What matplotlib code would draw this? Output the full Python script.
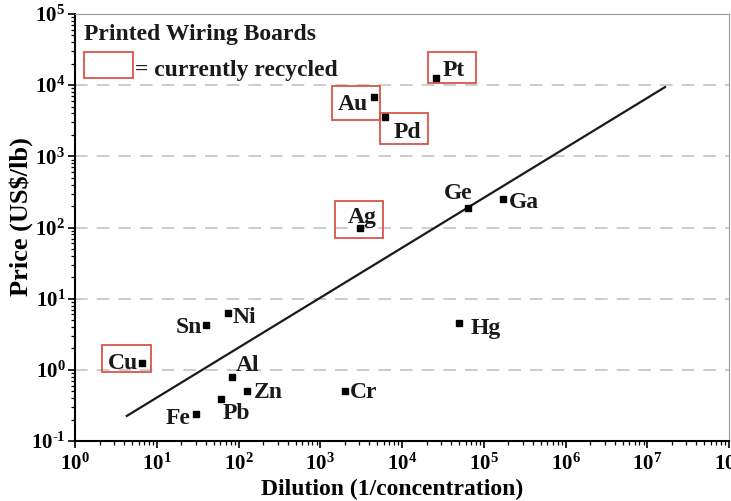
import matplotlib
matplotlib.use('Agg')
import matplotlib.pyplot as plt
import matplotlib.patches as mpatches
import matplotlib.transforms as mtransforms
import matplotlib.ticker as mticker
import numpy as np

plt.rcParams['font.family'] = ['Liberation Serif', 'DejaVu Serif']
plt.rcParams['font.weight'] = 'bold'
plt.rcParams['mathtext.fontset'] = 'custom'
plt.rcParams['mathtext.rm'] = 'Liberation Serif:bold'
plt.rcParams['mathtext.it'] = 'Liberation Serif:bold'
plt.rcParams['mathtext.bf'] = 'Liberation Serif:bold'

# data
metals = ['Pt', 'Au', 'Pd', 'Ag', 'Ge', 'Ga', 'Hg', 'Cr', 'Zn', 'Al', 'Pb', 'Fe', 'Sn', 'Ni', 'Cu']
dilution = [2.6e4, 4.5e3, 6.2e3, 3.1e3, 6.4e4, 1.73e5, 5.0e4, 2.0e3, 127, 83, 61, 30, 40, 74, 6.6]
price = [1.25e4, 6.8e3, 3.6e3, 98, 190, 255, 4.6, 0.51, 0.51, 0.80, 0.39, 0.24, 4.2, 6.3, 1.26]
recycled = ['Pt', 'Au', 'Pd', 'Ag', 'Cu']

trend_x = [4.3, 1.65e7]
trend_y = [0.225, 9400]

# label placement (pixels from the marker) and alignment
label_pos = {
    'Pt': (7, 8, 'left'), 'Au': (-6, -7, 'right'), 'Pd': (9, -16, 'left'),
    'Ag': (2, 11, 'center'), 'Ge': (-10, 14, 'center'), 'Ga': (6, -4, 'left'),
    'Hg': (11, -6, 'left'), 'Cr': (5, -2, 'left'), 'Zn': (7, -2, 'left'),
    'Al': (4, 11, 'left'), 'Pb': (2, -15, 'left'), 'Fe': (-5, -5, 'right'),
    'Sn': (-4, -2, 'right'), 'Ni': (5, -5, 'left'), 'Cu': (-4, -1, 'right'),
}
# red boxes (x, y, w, h in pixels relative to the marker)
box_pos = {
    'Pt': (-8, -5, 48, 31), 'Au': (-42, -23, 48, 34), 'Pd': (-5, -27, 48, 31),
    'Ag': (-25, -10, 48, 37), 'Cu': (-40, -9, 49, 27),
}


def log_fmt(v, pos):
    e = int(round(np.log10(v)))
    if e < 0:
        return r'$10^{\text{-}%d}$' % (-e)
    return r'$10^{%d}$' % e


fig = plt.figure(figsize=(7.31, 5.01), dpi=100)
ax = fig.add_axes([75/731, 1 - 441/501, 654/731, 427/501])
ax.set_xscale('log')
ax.set_yscale('log')
ax.set_xlim(1, 1e8)
ax.set_ylim(0.1, 1e5)
ax.xaxis.set_major_formatter(mticker.FuncFormatter(log_fmt))
ax.yaxis.set_major_formatter(mticker.FuncFormatter(log_fmt))

ax.yaxis.grid(True, which='major', color='#c8c8c8', linestyle=(0, (7, 5)), linewidth=1.3)
ax.set_axisbelow(True)

ax.plot(trend_x, trend_y, color='#1a1a1a', linewidth=1.6)
ax.plot(dilution, price, 's', color='black', markersize=3.8, linestyle='none')

for m, x, y in zip(metals, dilution, price):
    dx, dy, ha = label_pos[m]
    ax.annotate(m, (x, y), xytext=(dx, dy), textcoords='offset pixels',
                ha=ha, va='center', fontsize=17, fontweight='bold', color='#1a1a1a')
    if m in recycled:
        bx, by, bw, bh = box_pos[m]
        tr = fig.dpi_scale_trans + mtransforms.ScaledTranslation(x, y, ax.transData)
        ax.add_patch(mpatches.Rectangle((bx/100, by/100), bw/100, bh/100, transform=tr,
                                        fill=False, edgecolor='#d9544a', linewidth=1.3,
                                        clip_on=False))

ax.text(0.0138, 0.953, 'Printed Wiring Boards', transform=ax.transAxes,
        ha='left', va='center', fontsize=17, fontweight='bold', color='#1a1a1a')
ax.add_patch(mpatches.Rectangle((0.0138, 0.850), 0.0749, 0.061, transform=ax.transAxes,
                                fill=False, edgecolor='#d9544a', linewidth=1.3))
ax.text(0.091, 0.868, '= currently recycled', transform=ax.transAxes,
        ha='left', va='center', fontsize=17, fontweight='bold', color='#1a1a1a')

for s in ['top', 'right']:
    ax.spines[s].set_color('#999999')
for s in ['left', 'bottom']:
    ax.spines[s].set_linewidth(1.5)
ax.tick_params(which='major', direction='out', length=5, width=1.2, labelsize=15, pad=2)
ax.tick_params(which='minor', direction='out', length=3, width=0.9)
ax.tick_params(axis='x', pad=4)
ax.tick_params(top=False, right=False, which='both')

ax.set_xlabel('Dilution (1/concentration)', fontsize=17, fontweight='bold', va='center')
ax.xaxis.set_label_coords(0.485, -0.113)
ax.set_ylabel('Price (US\\$/lb)', fontsize=19, fontweight='bold', va='center')
ax.yaxis.set_label_coords(-0.082, 0.525)

plt.savefig('out.png', dpi=100)
